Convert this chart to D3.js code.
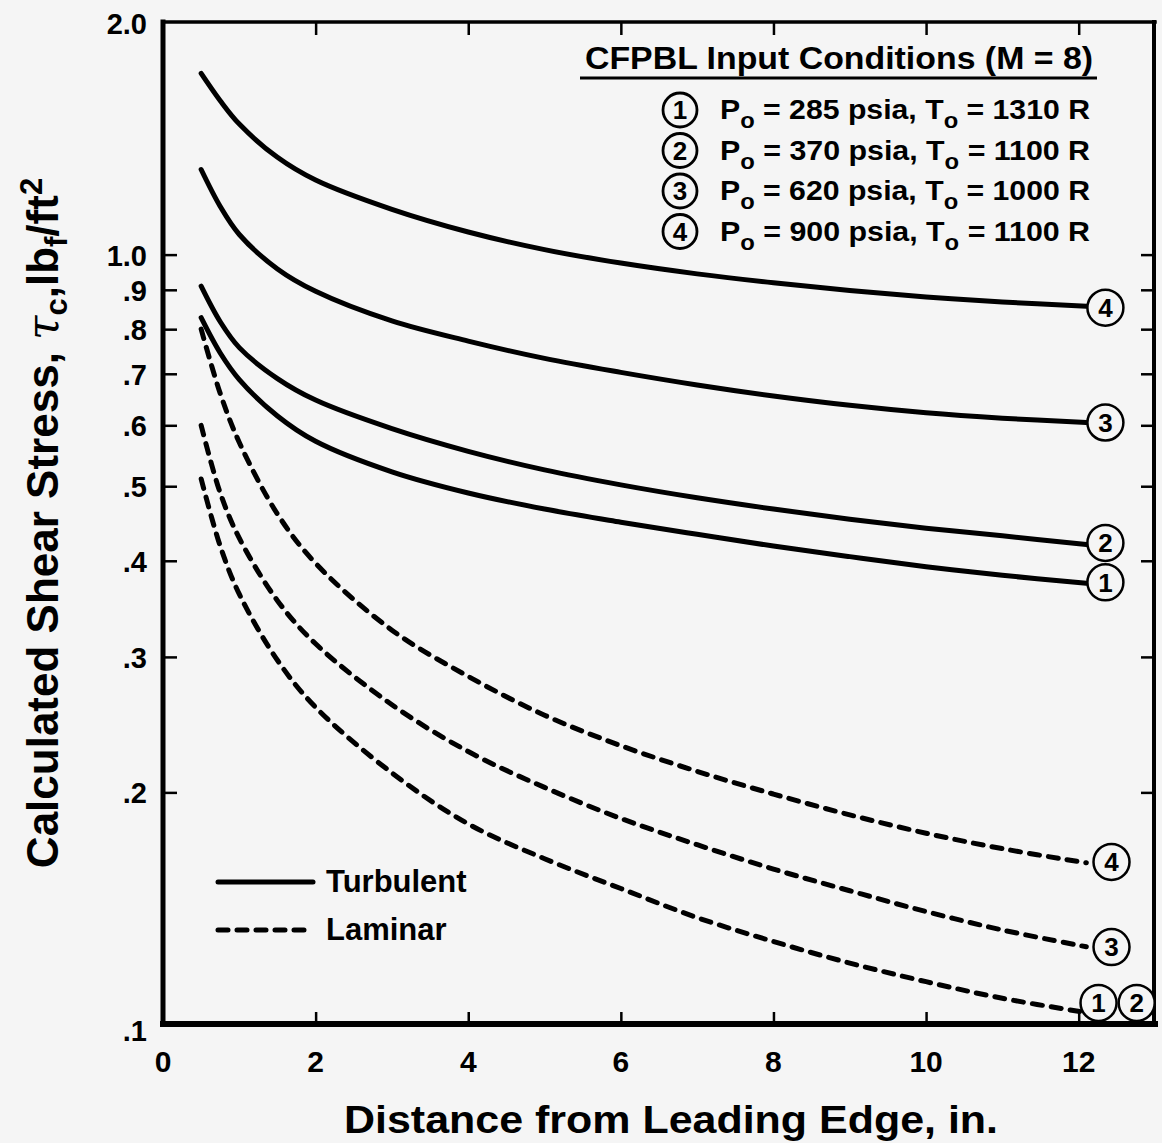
<!DOCTYPE html>
<html>
<head>
<meta charset="utf-8">
<script src="https://cdn.jsdelivr.net/npm/d3@7"></script>
<style>
  body { margin: 0; background: #f5f5f5; }
  text { font-family: "Liberation Sans", Arial, Helvetica, sans-serif; font-weight: bold; fill: #000; }
</style>
</head>
<body>
<div id="chart"></div>
<script>
// distance from leading edge, in.
const distance = [0.5, 0.75, 1, 1.5, 2, 3, 4, 5, 6, 7, 8, 9, 10, 11, 12.1];

// turbulent shear stress, lbf/ft^2
const turbulent1 = [0.828, 0.745, 0.688, 0.617, 0.572, 0.522, 0.490, 0.467, 0.449, 0.433, 0.418, 0.405, 0.393, 0.383, 0.374];
const turbulent2 = [0.910, 0.818, 0.757, 0.690, 0.647, 0.594, 0.555, 0.525, 0.502, 0.483, 0.467, 0.453, 0.441, 0.431, 0.420];
const turbulent3 = [1.290, 1.155, 1.062, 0.958, 0.896, 0.820, 0.772, 0.733, 0.703, 0.677, 0.655, 0.637, 0.623, 0.613, 0.605];
const turbulent4 = [1.720, 1.585, 1.478, 1.338, 1.250, 1.145, 1.070, 1.015, 0.975, 0.944, 0.919, 0.898, 0.881, 0.868, 0.857];

// laminar shear stress (cases 1 and 2 share one curve)
const laminar12 = [0.511, 0.418, 0.362, 0.297, 0.258, 0.212, 0.182, 0.164, 0.150, 0.1375, 0.128, 0.120, 0.1135, 0.108, 0.1035];
const laminar3  = [0.600, 0.490, 0.428, 0.355, 0.312, 0.260, 0.226, 0.203, 0.185, 0.171, 0.159, 0.149, 0.140, 0.1325, 0.126];
const laminar4  = [0.800, 0.660, 0.570, 0.460, 0.397, 0.325, 0.283, 0.252, 0.230, 0.213, 0.199, 0.187, 0.177, 0.169, 0.162];

// circled case labels at the curve ends
const endLabelText = ["1", "2", "3", "4", "4", "3", "1", "2"];
const endLabelX    = [12.35, 12.35, 12.35, 12.35, 12.43, 12.43, 12.26, 12.76];
const endLabelY    = [0.375, 0.422, 0.605, 0.853, 0.1624, 0.1259, 0.1065, 0.1065];

// input conditions
const caseIds = ["1", "2", "3", "4"];
const pressures = [285, 370, 620, 900];
const temperatures = [1310, 1100, 1000, 1100];

// axis ticks
const xTicks = [0, 2, 4, 6, 8, 10, 12];
const yTicks = [0.1, 0.2, 0.3, 0.4, 0.5, 0.6, 0.7, 0.8, 0.9, 1.0, 2.0];
const yTickLabels = [".1", ".2", ".3", ".4", ".5", ".6", ".7", ".8", ".9", "1.0", "2.0"];

const width = 1162, height = 1143;
const margin = { top: 23, right: 7, bottom: 119, left: 163 };

const svg = d3.select("#chart").append("svg")
    .attr("width", width)
    .attr("height", height);

svg.append("rect").attr("width", width).attr("height", height).attr("fill", "#f5f5f5");

const x = d3.scaleLinear()
    .domain([0, 13])
    .range([margin.left, width - margin.right]);

const y = d3.scaleLog()
    .domain([0.1, 2])
    .range([height - margin.bottom, margin.top]);

// ticks (inward, on all four sides)
const tickInner = yTicks.filter(d => d > 0.1 && d < 2);

svg.append("g")
    .attr("transform", "translate(0," + y(0.1) + ")")
    .call(d3.axisBottom(x).tickValues(xTicks.slice(1)).tickSize(-12).tickFormat(""))
    .call(g => g.select(".domain").remove())
    .call(g => g.selectAll("line").attr("stroke-width", 2.5));

svg.append("g")
    .attr("transform", "translate(0," + y(2) + ")")
    .call(d3.axisTop(x).tickValues(xTicks.slice(1)).tickSize(-12).tickFormat(""))
    .call(g => g.select(".domain").remove())
    .call(g => g.selectAll("line").attr("stroke-width", 2.5));

svg.append("g")
    .attr("transform", "translate(" + x(0) + ",0)")
    .call(d3.axisLeft(y).tickValues(tickInner).tickSize(-14).tickFormat(""))
    .call(g => g.select(".domain").remove())
    .call(g => g.selectAll("line").attr("stroke-width", 2.5));

svg.append("g")
    .attr("transform", "translate(" + x(13) + ",0)")
    .call(d3.axisRight(y).tickValues(tickInner).tickSize(-14).tickFormat(""))
    .call(g => g.select(".domain").remove())
    .call(g => g.selectAll("line").attr("stroke-width", 2.5));

// frame
const frame = svg.append("g").attr("stroke", "#000").attr("stroke-linecap", "square");
frame.append("line").attr("x1", x(0)).attr("x2", x(13)).attr("y1", y(0.1)).attr("y2", y(0.1)).attr("stroke-width", 6);
frame.append("line").attr("x1", x(0)).attr("x2", x(0)).attr("y1", y(0.1)).attr("y2", y(2) - 1).attr("stroke-width", 5);
frame.append("line").attr("x1", x(0)).attr("x2", x(13)).attr("y1", y(2) - 1).attr("y2", y(2) - 1).attr("stroke-width", 3.5);
frame.append("line").attr("x1", x(13) - 1).attr("x2", x(13) - 1).attr("y1", y(2) - 1).attr("y2", y(0.1)).attr("stroke-width", 4);

// tick labels
svg.append("g").selectAll("text")
    .data(xTicks)
    .join("text")
    .attr("x", d => x(d))
    .attr("y", y(0.1) + 48)
    .attr("text-anchor", "middle")
    .attr("font-size", 30)
    .text(d => d);

svg.append("g").selectAll("text")
    .data(yTicks)
    .join("text")
    .attr("x", x(0) - 16)
    .attr("y", d => y(d) + (d === 0.1 ? 17 : 11))
    .attr("text-anchor", "end")
    .attr("font-size", 29)
    .text((d, i) => yTickLabels[i]);

// axis titles
svg.append("text")
    .attr("x", 671)
    .attr("y", 1133)
    .attr("text-anchor", "middle")
    .attr("font-size", 39)
    .attr("textLength", 654)
    .attr("lengthAdjust", "spacingAndGlyphs")
    .text("Distance from Leading Edge, in.");

const yTitle = svg.append("text")
    .attr("transform", "translate(58,523) rotate(-90)")
    .attr("text-anchor", "middle")
    .attr("font-size", 44);
yTitle.append("tspan").text("Calculated Shear Stress, ");
yTitle.append("tspan").attr("font-family", "'DejaVu Serif', serif").attr("font-style", "italic").attr("font-weight", "normal").text("τ");
yTitle.append("tspan").attr("font-size", 31).attr("dy", 9).text("c");
yTitle.append("tspan").attr("dy", -9).text(",lb");
yTitle.append("tspan").attr("font-size", 31).attr("dy", 9).text("f");
yTitle.append("tspan").attr("dy", -9).text("/ft");
yTitle.append("tspan").attr("font-size", 31).attr("dy", -16).text("2");

// curves
const line = d3.line()
    .x(d => x(d[0]))
    .y(d => y(d[1]))
    .curve(d3.curveCatmullRom.alpha(0.5));

const turbulent = [turbulent1, turbulent2, turbulent3, turbulent4];
const laminar = [laminar12, laminar3, laminar4];

svg.append("g").selectAll("path")
    .data(turbulent)
    .join("path")
    .attr("d", s => line(distance.map((d, i) => [d, s[i]])))
    .attr("fill", "none")
    .attr("stroke", "#000")
    .attr("stroke-width", 5)
    .attr("stroke-linecap", "round");

svg.append("g").selectAll("path")
    .data(laminar)
    .join("path")
    .attr("d", s => line(distance.map((d, i) => [d, s[i]])))
    .attr("fill", "none")
    .attr("stroke", "#000")
    .attr("stroke-width", 5)
    .attr("stroke-dasharray", "10,9")
    .attr("stroke-linecap", "round");

// circled case numbers at curve ends
const endLabels = svg.append("g").selectAll("g")
    .data(endLabelText)
    .join("g")
    .attr("transform", (d, i) => "translate(" + x(endLabelX[i]) + "," + y(endLabelY[i]) + ")");

endLabels.append("circle")
    .attr("r", 18)
    .attr("fill", "#f5f5f5")
    .attr("stroke", "#000")
    .attr("stroke-width", 2.5);

endLabels.append("text")
    .attr("text-anchor", "middle")
    .attr("dy", "0.36em")
    .attr("font-size", 26)
    .text(d => d);

// input conditions legend
svg.append("text")
    .attr("x", 585)
    .attr("y", 69)
    .attr("font-size", 32)
    .attr("textLength", 508)
    .attr("lengthAdjust", "spacingAndGlyphs")
    .text("CFPBL Input Conditions (M = 8)");

svg.append("line")
    .attr("x1", 580).attr("x2", 1097)
    .attr("y1", 78).attr("y2", 78)
    .attr("stroke", "#000")
    .attr("stroke-width", 3);

const rows = svg.append("g").selectAll("g")
    .data(caseIds)
    .join("g")
    .attr("transform", (d, i) => "translate(0," + (119 + i * 40.5) + ")");

rows.append("circle")
    .attr("cx", 680)
    .attr("cy", -9)
    .attr("r", 17)
    .attr("fill", "none")
    .attr("stroke", "#000")
    .attr("stroke-width", 2.8);

rows.append("text")
    .attr("x", 680)
    .attr("y", 0)
    .attr("text-anchor", "middle")
    .attr("font-size", 26)
    .text(d => d);

const rowText = rows.append("text")
    .attr("x", 720)
    .attr("y", 0)
    .attr("font-size", 28)
    .attr("textLength", 370)
    .attr("lengthAdjust", "spacingAndGlyphs");

rowText.append("tspan").text("P");
rowText.append("tspan").attr("font-size", 22).attr("dy", 9).text("o");
rowText.append("tspan").attr("dy", -9).text((d, i) => " = " + pressures[i] + " psia, T");
rowText.append("tspan").attr("font-size", 22).attr("dy", 9).text("o");
rowText.append("tspan").attr("dy", -9).text((d, i) => " = " + temperatures[i] + " R");

// flow regime legend
const regimes = ["Turbulent", "Laminar"];
const regimeDash = [null, "10,9"];

const regime = svg.append("g").selectAll("g")
    .data(regimes)
    .join("g")
    .attr("transform", (d, i) => "translate(0," + (882 + i * 48) + ")");

regime.append("line")
    .attr("x1", 218).attr("x2", 313)
    .attr("stroke", "#000")
    .attr("stroke-width", 5)
    .attr("stroke-linecap", "round")
    .attr("stroke-dasharray", (d, i) => regimeDash[i]);

regime.append("text")
    .attr("x", 326)
    .attr("y", 10)
    .attr("font-size", 31)
    .text(d => d);
</script>
</body>
</html>
